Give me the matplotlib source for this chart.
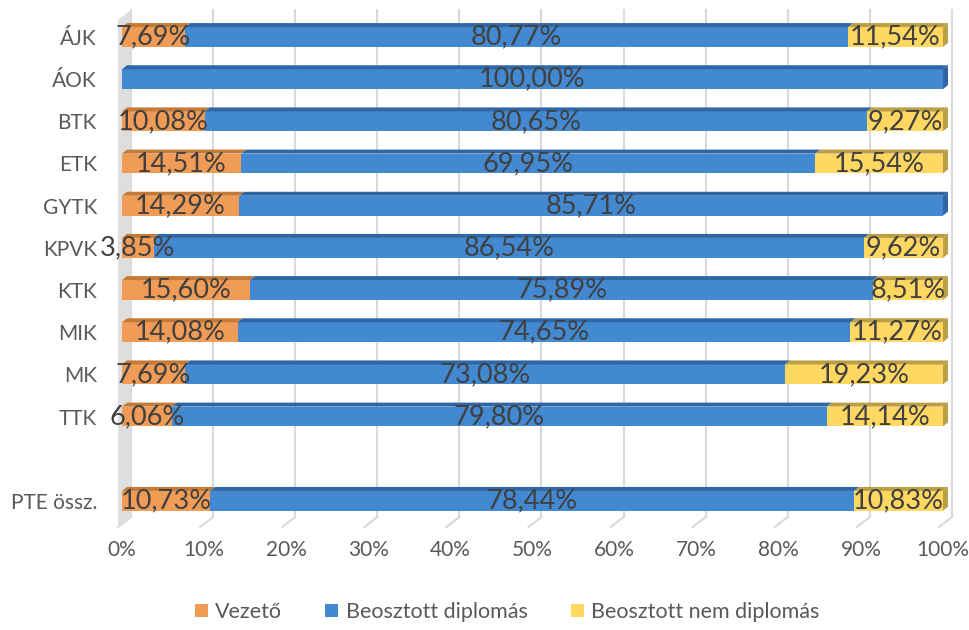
import numpy as np
import matplotlib.pyplot as plt
from matplotlib.patches import Polygon, Patch
from matplotlib.lines import Line2D
from matplotlib.transforms import IdentityTransform

plt.rcParams['font.family'] = ['Lato', 'DejaVu Sans']

categories = ['ÁJK', 'ÁOK', 'BTK', 'ETK', 'GYTK', 'KPVK', 'KTK', 'MIK', 'MK', 'TTK', '', 'PTE össz.']
vezeto = [7.69, 0, 10.08, 14.51, 14.29, 3.85, 15.60, 14.08, 7.69, 6.06, np.nan, 10.73]
dipl = [80.77, 100.00, 80.65, 69.95, 85.71, 86.54, 75.89, 74.65, 73.08, 79.80, np.nan, 78.44]
nem_dipl = [11.54, 0, 9.27, 15.54, 0, 9.62, 8.51, 11.27, 19.23, 14.14, np.nan, 10.83]
series_names = ['Vezető', 'Beosztott diplomás', 'Beosztott nem diplomás']
xticks = list(range(0, 101, 10))

front_colors = ['#F19C56', '#4389D1', '#FFD761']
dark_colors = ['#C67A38', '#2F66A6', '#BC9E45']

W, H = 970, 630
fig = plt.figure(figsize=(W / 100, H / 100), dpi=100)
ax = fig.add_axes([122 / W, 103 / H, 821 / W, 517 / H])
n = len(categories)
ax.set_xlim(0, 100)
ax.set_ylim(n - 1 + 0.62, -0.64)
for s in ax.spines.values():
    s.set_visible(False)
ax.set_xticks(xticks)
ax.set_xticklabels([f'{t}%' for t in xticks])
ax.set_yticks(range(n))
ax.set_yticklabels(categories)
ax.tick_params(axis='x', length=0, pad=9, labelsize=15, labelcolor='#595959')
ax.tick_params(axis='y', length=0, pad=18, labelsize=15, labelcolor='#595959')

ident = IdentityTransform()


def disp(x, y):
    return ax.transData.transform((x, y))


bottom = ax.transAxes.transform((0, 0))[1]
top = ax.transAxes.transform((0, 1))[1]
grid_c = '#D9D9D9'

# gridlines on the back wall and floor diagonals
for t in xticks:
    fx = disp(t, 0)[0]
    ax.add_artist(Line2D([fx + 9, fx + 9], [bottom + 10, top], transform=ident,
                         color=grid_c, lw=1.5, zorder=1, clip_on=False))
    ax.add_artist(Line2D([fx - 4, fx + 9], [bottom, bottom + 10], transform=ident,
                         color=grid_c, lw=1.5, zorder=1, clip_on=False))

# left wall
fx0 = disp(0, 0)[0]
ax.add_artist(Polygon([(fx0 - 4, bottom), (fx0 + 9, bottom + 10), (fx0 + 9, top), (fx0 - 4, top - 10)],
                      closed=True, transform=ident, facecolor='#DEDEDE', edgecolor='none',
                      zorder=2, clip_on=False))

h = 0.47
dx, dy = 5, 4
data = [vezeto, dipl, nem_dipl]
for i in range(n):
    if np.isnan(dipl[i]):
        continue
    left = 0
    segs = []
    for j in range(3):
        v = data[j][i]
        if v > 0:
            segs.append((j, left, v))
        left += v
    for k, (j, x0, v) in enumerate(segs):
        ax.barh(i, v, left=x0, height=h, color=front_colors[j], edgecolor='none', zorder=3)
        a = disp(x0, i - h / 2)
        b = disp(x0 + v, i - h / 2)
        c = disp(x0 + v, i + h / 2)
        ax.add_artist(Polygon([a, b, (b[0] + dx, b[1] + dy), (a[0] + dx, a[1] + dy)], closed=True,
                              transform=ident, facecolor=dark_colors[j], edgecolor='none',
                              zorder=4, clip_on=False))
        if k == len(segs) - 1:
            ax.add_artist(Polygon([c, b, (b[0] + dx, b[1] + dy), (c[0] + dx, c[1] + dy)], closed=True,
                                  transform=ident, facecolor=dark_colors[j], edgecolor='none',
                                  zorder=4, clip_on=False))
    for j, x0, v in segs:
        ax.text(x0 + v / 2, i, f'{v:.2f}'.replace('.', ',') + '%', ha='center', va='center',
                fontsize=19.5, color='#404040', zorder=10, clip_on=False)

handles = [Patch(facecolor=c, edgecolor='none') for c in front_colors]
fig.legend(handles, series_names, loc='center', bbox_to_anchor=(0.523, 1 - 612 / H), ncol=3,
           frameon=False, fontsize=15.5, handlelength=0.6, handleheight=0.6, handletextpad=0.35,
           columnspacing=2.0, labelcolor='#595959')

fig.savefig('out.png', dpi=100)
